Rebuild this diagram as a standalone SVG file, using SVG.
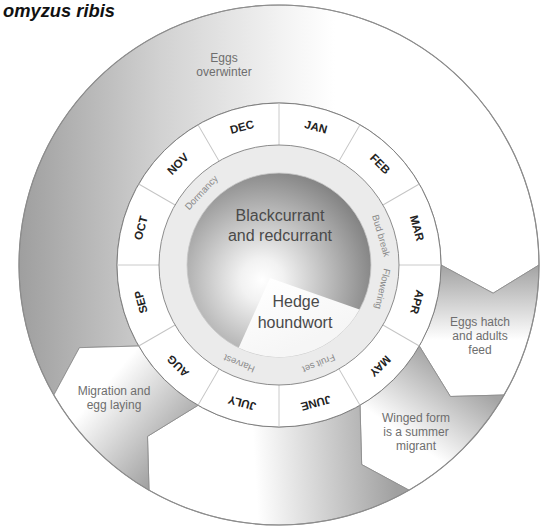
<svg xmlns="http://www.w3.org/2000/svg" width="542" height="529" viewBox="0 0 542 529">
<style>
.reg{stroke:#8f8f8f;stroke-width:0.9}
.ol{font-family:"Liberation Sans",Arial,sans-serif;font-size:12px;fill:#6e6e6e;text-anchor:middle}
.mo{font-family:"Liberation Sans",Arial,sans-serif;font-size:11.5px;font-weight:bold;fill:#222;text-anchor:middle}
.st{font-family:"Liberation Sans",Arial,sans-serif;font-size:9.5px;fill:#8a8a8a;text-anchor:middle}
.ct{font-family:"Liberation Sans",Arial,sans-serif;font-size:16px;fill:#4a4a4a;text-anchor:middle}
.tick{stroke:#c4c4c4;stroke-width:0.9}
</style>
<defs>
<linearGradient id="gOver" gradientUnits="userSpaceOnUse" x1="20" y1="0" x2="335" y2="0">
<stop offset="0" stop-color="#9f9f9f"/><stop offset="0.45" stop-color="#d2d2d2"/><stop offset="0.85" stop-color="#f4f4f4"/><stop offset="1" stop-color="#ffffff"/>
</linearGradient>
<linearGradient id="gHatch" gradientUnits="userSpaceOnUse" x1="0" y1="268" x2="0" y2="340">
<stop offset="0" stop-color="#a6a6a6"/><stop offset="1" stop-color="#ffffff"/>
</linearGradient>
<linearGradient id="gWing" gradientUnits="userSpaceOnUse" x1="458" y1="372" x2="410" y2="440">
<stop offset="0" stop-color="#a4a4a4"/><stop offset="1" stop-color="#ffffff"/>
</linearGradient>
<linearGradient id="gBot" gradientUnits="userSpaceOnUse" x1="395" y1="462" x2="255" y2="470">
<stop offset="0" stop-color="#a0a0a0"/><stop offset="1" stop-color="#ffffff"/>
</linearGradient>
<linearGradient id="gMig" gradientUnits="userSpaceOnUse" x1="180" y1="450" x2="105" y2="385">
<stop offset="0" stop-color="#a2a2a2"/><stop offset="1" stop-color="#ffffff"/>
</linearGradient>
<radialGradient id="gDisk" gradientUnits="userSpaceOnUse" cx="262" cy="280" r="118">
<stop offset="0" stop-color="#ffffff"/><stop offset="0.18" stop-color="#f2f2f2"/><stop offset="1" stop-color="#7e7e7e"/>
</radialGradient>
<linearGradient id="gWedge" gradientUnits="userSpaceOnUse" x1="270" y1="278" x2="300" y2="345">
<stop offset="0" stop-color="#ffffff"/><stop offset="1" stop-color="#f6f6f6"/>
</linearGradient>
</defs>

<rect width="542" height="529" fill="#ffffff"/>

<g id="title">
<text x="3" y="17" font-family="'Liberation Sans',Arial,sans-serif" font-size="18" font-weight="bold" font-style="italic" fill="#111" textLength="112" lengthAdjust="spacingAndGlyphs">omyzus ribis</text>
</g>

<g id="outer-ring">
<g id="eggs-overwinter">
<path class="reg" fill="url(#gOver)" d="M138.7,346 L79.44,347.66 L53.83,395 A260 260 0 1 1 539,265 L493.15,293.19 L441,265 A162 162 0 1 0 138.7,346 Z"/>
<text class="ol" x="224" y="62">Eggs</text>
<text class="ol" x="224" y="76">overwinter</text>
</g>
<g id="eggs-hatch">
<path class="reg" fill="url(#gHatch)" d="M441,265 L493.15,293.19 L539,265 A260 260 0 0 1 504.17,395 L450.36,396.49 L419.3,346 A162 162 0 0 0 441,265 Z"/>
<text class="ol" x="480" y="326">Eggs hatch</text>
<text class="ol" x="480" y="340">and adults</text>
<text class="ol" x="480" y="354">feed</text>
</g>
<g id="winged-form">
<path class="reg" fill="url(#gWing)" d="M419.3,346 L450.36,396.49 L504.17,395 A260 260 0 0 1 409,490.17 L361.66,464.56 L360,405.3 A162 162 0 0 0 419.3,346 Z"/>
<text class="ol" x="416" y="422">Winged form</text>
<text class="ol" x="416" y="436">is a summer</text>
<text class="ol" x="416" y="450">migrant</text>
</g>
<g id="summer-host">
<path class="reg" fill="url(#gBot)" d="M360,405.3 L361.66,464.56 L409,490.17 A260 260 0 0 1 149,490.17 L147.51,436.36 L198,405.3 A162 162 0 0 0 360,405.3 Z"/>
</g>
<g id="migration">
<path class="reg" fill="url(#gMig)" d="M198,405.3 L147.51,436.36 L149,490.17 A260 260 0 0 1 53.83,395 L79.44,347.66 L138.7,346 A162 162 0 0 0 198,405.3 Z"/>
<text class="ol" x="114" y="395">Migration and</text>
<text class="ol" x="114" y="409">egg laying</text>
</g>
<circle cx="279" cy="265" r="260" fill="none" stroke="#8c8c8c" stroke-width="1.2"/>
</g>

<g id="months">
<circle cx="279" cy="265" r="162" fill="#ffffff" stroke="#7e7e7e" stroke-width="1"/>
<g transform="translate(279 265)">
<line class="tick" x1="120" y1="0" x2="162" y2="0" transform="rotate(0)"/>
<line class="tick" x1="120" y1="0" x2="162" y2="0" transform="rotate(30)"/>
<line class="tick" x1="120" y1="0" x2="162" y2="0" transform="rotate(60)"/>
<line class="tick" x1="120" y1="0" x2="162" y2="0" transform="rotate(90)"/>
<line class="tick" x1="120" y1="0" x2="162" y2="0" transform="rotate(120)"/>
<line class="tick" x1="120" y1="0" x2="162" y2="0" transform="rotate(150)"/>
<line class="tick" x1="120" y1="0" x2="162" y2="0" transform="rotate(180)"/>
<line class="tick" x1="120" y1="0" x2="162" y2="0" transform="rotate(210)"/>
<line class="tick" x1="120" y1="0" x2="162" y2="0" transform="rotate(240)"/>
<line class="tick" x1="120" y1="0" x2="162" y2="0" transform="rotate(270)"/>
<line class="tick" x1="120" y1="0" x2="162" y2="0" transform="rotate(300)"/>
<line class="tick" x1="120" y1="0" x2="162" y2="0" transform="rotate(330)"/>
<text class="mo" transform="rotate(15) translate(0 -139)">JAN</text>
<text class="mo" transform="rotate(45) translate(0 -139)">FEB</text>
<text class="mo" transform="rotate(75) translate(0 -139)">MAR</text>
<text class="mo" transform="rotate(105) translate(0 -139)">APR</text>
<text class="mo" transform="rotate(135) translate(0 -139)">MAY</text>
<text class="mo" transform="rotate(165) translate(0 -139)">JUNE</text>
<text class="mo" transform="rotate(195) translate(0 -139)">JULY</text>
<text class="mo" transform="rotate(225) translate(0 -139)">AUG</text>
<text class="mo" transform="rotate(255) translate(0 -139)">SEP</text>
<text class="mo" transform="rotate(285) translate(0 -139)">OCT</text>
<text class="mo" transform="rotate(315) translate(0 -139)">NOV</text>
<text class="mo" transform="rotate(345) translate(0 -139)">DEC</text>
</g>
</g>

<g id="stages">
<circle cx="279" cy="265" r="120" fill="#ebebeb" stroke="#8c8c8c" stroke-width="1"/>
<g transform="translate(279 265)">
<text class="st" transform="rotate(313) translate(0 -103)">Dormancy</text>
<text class="st" transform="rotate(74) translate(0 -103)">Bud break</text>
<text class="st" transform="rotate(103) translate(0 -103)">Flowering</text>
<text class="st" transform="rotate(158) translate(0 -103)">Fruit set</text>
<text class="st" transform="rotate(202) translate(0 -103)">Harvest</text>
</g>
</g>

<g id="centre">
<g id="blackcurrant">
<circle cx="279" cy="265" r="92" fill="url(#gDisk)" stroke="#c8c8c8" stroke-width="0.8"/>
<text class="ct" x="280" y="221">Blackcurrant</text>
<text class="ct" x="280" y="241">and redcurrant</text>
</g>
<g id="hedge-houndwort">
<path d="M270,278 L359.5,309.6 A92 92 0 0 1 238.7,347.7 Z" fill="url(#gWedge)"/>
<text class="ct" x="296" y="307">Hedge</text>
<text class="ct" x="295" y="328">houndwort</text>
</g>
</g>
</svg>
